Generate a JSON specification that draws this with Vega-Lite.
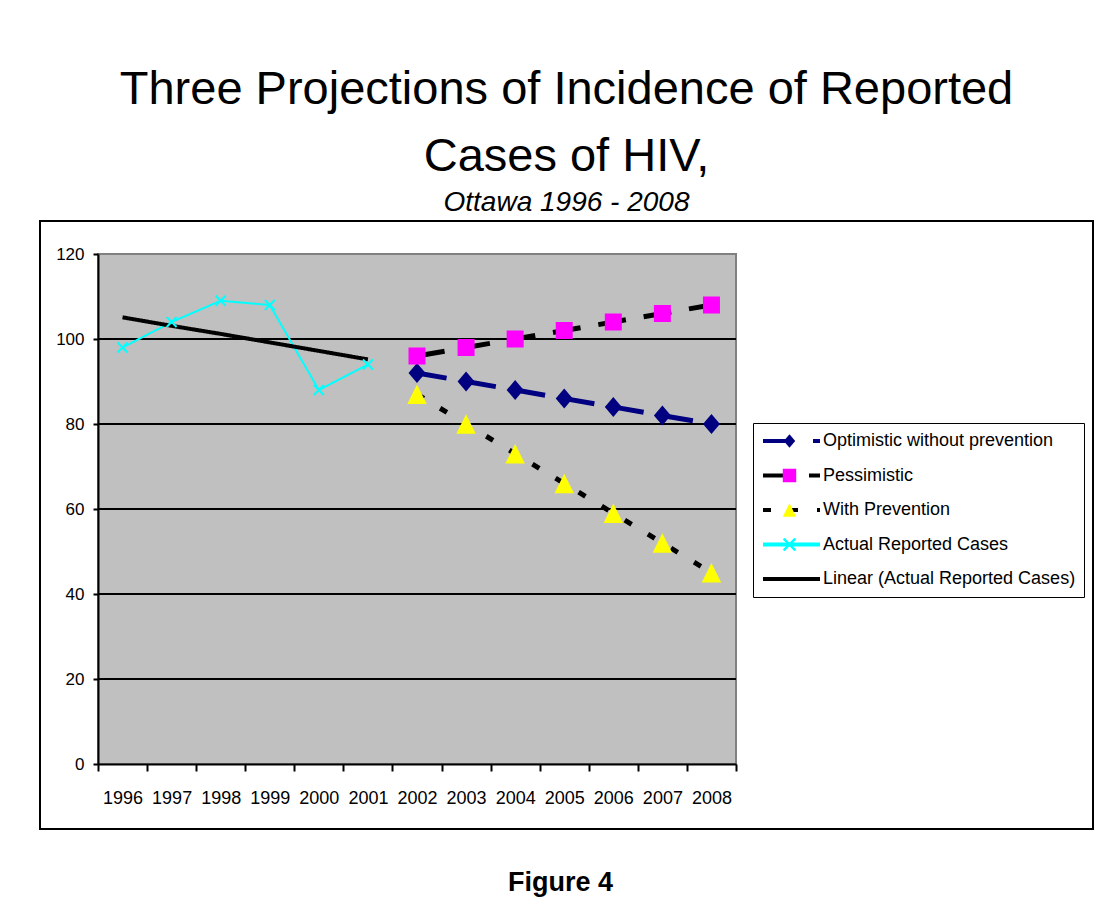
{
  "$schema": "https://vega.github.io/schema/vega-lite/v6.json",
  "width": 1053,
  "height": 608,
  "autosize": {"type": "none"},
  "padding": {"left": 40, "top": 221, "right": 27, "bottom": 89},
  "background": "white",
  "title": {
    "text": ["Three Projections of Incidence of Reported", "Cases of HIV,"],
    "subtitle": "Ottawa 1996 - 2008",
    "font": "Liberation Sans",
    "fontSize": 47,
    "fontWeight": "normal",
    "color": "black",
    "lineHeight": 67,
    "subtitleFont": "Liberation Sans",
    "subtitleFontSize": 28,
    "subtitleFontStyle": "italic",
    "subtitleColor": "black",
    "subtitlePadding": 8,
    "anchor": "middle",
    "frame": "group",
    "offset": 3
  },
  "datasets": {
    "plotArea": [{"from": 1995.5, "to": 2008.5, "bottom": 0, "top": 120}],
    "gridLevels": [
      {"level": 20, "from": 1995.5, "to": 2008.5},
      {"level": 40, "from": 1995.5, "to": 2008.5},
      {"level": 60, "from": 1995.5, "to": 2008.5},
      {"level": 80, "from": 1995.5, "to": 2008.5},
      {"level": 100, "from": 1995.5, "to": 2008.5}
    ]
  },
  "data": {
    "values": [
      {"year": 1996, "value": 98, "series": "Actual Reported Cases"},
      {"year": 1997, "value": 104, "series": "Actual Reported Cases"},
      {"year": 1998, "value": 109, "series": "Actual Reported Cases"},
      {"year": 1999, "value": 108, "series": "Actual Reported Cases"},
      {"year": 2000, "value": 88, "series": "Actual Reported Cases"},
      {"year": 2001, "value": 94, "series": "Actual Reported Cases"},
      {"year": 1996, "value": 105.1, "series": "Linear (Actual Reported Cases)"},
      {"year": 1997, "value": 103.1, "series": "Linear (Actual Reported Cases)"},
      {"year": 1998, "value": 101.2, "series": "Linear (Actual Reported Cases)"},
      {"year": 1999, "value": 99.2, "series": "Linear (Actual Reported Cases)"},
      {"year": 2000, "value": 97.2, "series": "Linear (Actual Reported Cases)"},
      {"year": 2001, "value": 95.2, "series": "Linear (Actual Reported Cases)"},
      {"year": 2002, "value": 92, "series": "Optimistic without prevention"},
      {"year": 2003, "value": 90, "series": "Optimistic without prevention"},
      {"year": 2004, "value": 88, "series": "Optimistic without prevention"},
      {"year": 2005, "value": 86, "series": "Optimistic without prevention"},
      {"year": 2006, "value": 84, "series": "Optimistic without prevention"},
      {"year": 2007, "value": 82, "series": "Optimistic without prevention"},
      {"year": 2008, "value": 80, "series": "Optimistic without prevention"},
      {"year": 2002, "value": 96, "series": "Pessimistic"},
      {"year": 2003, "value": 98, "series": "Pessimistic"},
      {"year": 2004, "value": 100, "series": "Pessimistic"},
      {"year": 2005, "value": 102, "series": "Pessimistic"},
      {"year": 2006, "value": 104, "series": "Pessimistic"},
      {"year": 2007, "value": 106, "series": "Pessimistic"},
      {"year": 2008, "value": 108, "series": "Pessimistic"},
      {"year": 2002, "value": 87, "series": "With Prevention"},
      {"year": 2003, "value": 80, "series": "With Prevention"},
      {"year": 2004, "value": 73, "series": "With Prevention"},
      {"year": 2005, "value": 66, "series": "With Prevention"},
      {"year": 2006, "value": 59, "series": "With Prevention"},
      {"year": 2007, "value": 52, "series": "With Prevention"},
      {"year": 2008, "value": 45, "series": "With Prevention"}
    ]
  },
  "encoding": {
    "x": {
      "field": "year",
      "type": "quantitative",
      "scale": {"domain": [1995.5, 2008.5], "range": [58, 696], "nice": false, "zero": false},
      "axis": {
        "orient": "bottom",
        "offset": -65,
        "values": [1995.5, 1996.5, 1997.5, 1998.5, 1999.5, 2000.5, 2001.5, 2002.5, 2003.5, 2004.5, 2005.5, 2006.5, 2007.5, 2008.5],
        "labelExpr": "datum.value > 2008 ? '' : format(datum.value + 0.5, 'd')",
        "labelOffset": 24.54,
        "labelFont": "Liberation Sans",
        "labelFontSize": 18,
        "labelColor": "black",
        "labelPadding": 18,
        "labelFlush": false,
        "labelOverlap": false,
        "labelBound": false,
        "grid": false,
        "domainColor": "black",
        "domainWidth": 2,
        "tickColor": "black",
        "tickWidth": 2,
        "tickSize": 7,
        "zindex": 1,
        "title": "Figure 4",
        "titleFont": "Liberation Sans",
        "titleFontWeight": "bold",
        "titleFontSize": 27,
        "titleColor": "black",
        "titleX": 520,
        "titleY": 126,
        "titleAlign": "center",
        "titleBaseline": "alphabetic"
      }
    },
    "y": {
      "field": "value",
      "type": "quantitative",
      "scale": {"domain": [0, 120], "range": [543, 33], "nice": false},
      "axis": {
        "orient": "left",
        "offset": -58,
        "values": [0, 20, 40, 60, 80, 100, 120],
        "labelFont": "Liberation Sans",
        "labelFontSize": 17,
        "labelColor": "black",
        "labelPadding": 9,
        "grid": false,
        "domainColor": "black",
        "domainWidth": 2,
        "tickColor": "black",
        "tickWidth": 2,
        "tickSize": 5,
        "zindex": 1,
        "title": null
      }
    }
  },
  "layer": [
    {
      "data": {"name": "plotArea"},
      "mark": {"type": "rect", "fill": "#c0c0c0", "stroke": "#808080", "strokeWidth": 2},
      "encoding": {
        "x": {"field": "from", "type": "quantitative"},
        "x2": {"field": "to"},
        "y": {"field": "bottom", "type": "quantitative"},
        "y2": {"field": "top"}
      }
    },
    {
      "data": {"name": "gridLevels"},
      "mark": {"type": "rule", "stroke": "black", "strokeWidth": 2},
      "encoding": {
        "y": {"field": "level", "type": "quantitative"},
        "x": {"field": "from", "type": "quantitative"},
        "x2": {"field": "to"}
      }
    },
    {
      "transform": [{"filter": "datum.series == 'Actual Reported Cases'"}],
      "mark": {"type": "line", "strokeWidth": 2},
      "encoding": {
        "stroke": {
          "field": "series", "type": "nominal",
          "scale": {"domain": ["Optimistic without prevention", "Pessimistic", "With Prevention", "Actual Reported Cases", "Linear (Actual Reported Cases)"],
                    "range": ["#000080", "#000000", "#000000", "#00ffff", "#000000"]},
          "legend": {
            "orient": "none", "legendX": 713, "legendY": 202, "title": null,
            "symbolType": "stroke", "symbolSize": 3249, "symbolStrokeWidth": 4,
            "labelFont": "Liberation Sans", "labelFontSize": 18, "labelColor": "black", "labelLimit": 0,
            "labelOffset": 1, "padding": 8, "rowPadding": 14.5, "clipHeight": 20,
            "strokeColor": "black", "fillColor": "white", "zindex": 1
          }
        },
        "strokeDash": {
          "field": "series", "type": "nominal",
          "scale": {"domain": ["Optimistic without prevention", "Pessimistic", "With Prevention", "Actual Reported Cases", "Linear (Actual Reported Cases)"],
                    "range": [[30, 20], [28, 18], [8, 19], [1, 0], [1, 0]]},
          "legend": {
            "orient": "none", "legendX": 713, "legendY": 202, "title": null,
            "symbolType": "stroke", "symbolSize": 3249, "symbolStrokeWidth": 4,
            "labelFont": "Liberation Sans", "labelFontSize": 18, "labelColor": "black", "labelLimit": 0,
            "labelOffset": 1, "padding": 8, "rowPadding": 14.5, "clipHeight": 20,
            "strokeColor": "black", "fillColor": "white", "zindex": 1
          }
        }
      }
    },
    {
      "transform": [{"filter": "datum.series == 'Linear (Actual Reported Cases)'"}],
      "mark": {"type": "line", "strokeWidth": 4},
      "encoding": {
        "stroke": {
          "field": "series", "type": "nominal",
          "scale": {"domain": ["Optimistic without prevention", "Pessimistic", "With Prevention", "Actual Reported Cases", "Linear (Actual Reported Cases)"],
                    "range": ["#000080", "#000000", "#000000", "#00ffff", "#000000"]}
        },
        "strokeDash": {
          "field": "series", "type": "nominal",
          "scale": {"domain": ["Optimistic without prevention", "Pessimistic", "With Prevention", "Actual Reported Cases", "Linear (Actual Reported Cases)"],
                    "range": [[30, 20], [28, 18], [8, 19], [1, 0], [1, 0]]}
        }
      }
    },
    {
      "transform": [{"filter": "datum.series == 'Optimistic without prevention' || datum.series == 'Pessimistic' || datum.series == 'With Prevention'"}],
      "mark": {"type": "line", "strokeWidth": 5},
      "encoding": {
        "stroke": {
          "field": "series", "type": "nominal",
          "scale": {"domain": ["Optimistic without prevention", "Pessimistic", "With Prevention", "Actual Reported Cases", "Linear (Actual Reported Cases)"],
                    "range": ["#000080", "#000000", "#000000", "#00ffff", "#000000"]}
        },
        "strokeDash": {
          "field": "series", "type": "nominal",
          "scale": {"domain": ["Optimistic without prevention", "Pessimistic", "With Prevention", "Actual Reported Cases", "Linear (Actual Reported Cases)"],
                    "range": [[30, 20], [28, 18], [8, 19], [1, 0], [1, 0]]}
        }
      }
    },
    {
      "transform": [{"filter": "datum.series == 'Optimistic without prevention'"}],
      "mark": {"type": "point", "filled": true, "size": 400, "strokeWidth": 0, "opacity": 1},
      "encoding": {
        "fill": {
          "field": "series", "type": "nominal",
          "scale": {"domain": ["Optimistic without prevention", "Pessimistic", "With Prevention", "Actual Reported Cases"],
                    "range": ["#000080", "#ff00ff", "#ffff00", "#00ffff"]},
          "legend": {
            "orient": "none", "legendX": 713, "legendY": 202, "title": null,
            "symbolSize": 180, "symbolStrokeWidth": 0, "symbolOpacity": 1,
            "labelExpr": "''", "labelFontSize": 18, "labelLimit": 0,
            "padding": 8, "rowPadding": 14.5, "clipHeight": 20, "symbolOffset": 19.5, "zindex": 2
          }
        },
        "shape": {
          "field": "series", "type": "nominal",
          "scale": {"domain": ["Optimistic without prevention", "Pessimistic", "With Prevention", "Actual Reported Cases"],
                    "range": ["M0,-1L0.85,0L0,1L-0.85,0Z", "square", "M0,-1L1,1L-1,1Z", "M-1,-0.75L-0.75,-1L1,0.75L0.75,1Z M0.75,-1L1,-0.75L-0.75,1L-1,0.75Z"]},
          "legend": {
            "orient": "none", "legendX": 713, "legendY": 202, "title": null,
            "symbolSize": 180, "symbolStrokeWidth": 0, "symbolOpacity": 1,
            "labelExpr": "''", "labelFontSize": 18, "labelLimit": 0,
            "padding": 8, "rowPadding": 14.5, "clipHeight": 20, "symbolOffset": 19.5, "zindex": 2
          }
        }
      }
    },
    {
      "transform": [{"filter": "datum.series == 'Pessimistic'"}],
      "mark": {"type": "point", "filled": true, "size": 289, "strokeWidth": 0, "opacity": 1},
      "encoding": {
        "fill": {
          "field": "series", "type": "nominal",
          "scale": {"domain": ["Optimistic without prevention", "Pessimistic", "With Prevention", "Actual Reported Cases"],
                    "range": ["#000080", "#ff00ff", "#ffff00", "#00ffff"]}
        },
        "shape": {
          "field": "series", "type": "nominal",
          "scale": {"domain": ["Optimistic without prevention", "Pessimistic", "With Prevention", "Actual Reported Cases"],
                    "range": ["M0,-1L0.85,0L0,1L-0.85,0Z", "square", "M0,-1L1,1L-1,1Z", "M-1,-0.75L-0.75,-1L1,0.75L0.75,1Z M0.75,-1L1,-0.75L-0.75,1L-1,0.75Z"]}
        }
      }
    },
    {
      "transform": [{"filter": "datum.series == 'With Prevention'"}],
      "mark": {"type": "point", "filled": true, "size": 380, "strokeWidth": 0, "opacity": 1},
      "encoding": {
        "fill": {
          "field": "series", "type": "nominal",
          "scale": {"domain": ["Optimistic without prevention", "Pessimistic", "With Prevention", "Actual Reported Cases"],
                    "range": ["#000080", "#ff00ff", "#ffff00", "#00ffff"]}
        },
        "shape": {
          "field": "series", "type": "nominal",
          "scale": {"domain": ["Optimistic without prevention", "Pessimistic", "With Prevention", "Actual Reported Cases"],
                    "range": ["M0,-1L0.85,0L0,1L-0.85,0Z", "square", "M0,-1L1,1L-1,1Z", "M-1,-0.75L-0.75,-1L1,0.75L0.75,1Z M0.75,-1L1,-0.75L-0.75,1L-1,0.75Z"]}
        }
      }
    },
    {
      "transform": [{"filter": "datum.series == 'Actual Reported Cases'"}],
      "mark": {"type": "point", "filled": true, "size": 130, "strokeWidth": 0, "opacity": 1},
      "encoding": {
        "fill": {
          "field": "series", "type": "nominal",
          "scale": {"domain": ["Optimistic without prevention", "Pessimistic", "With Prevention", "Actual Reported Cases"],
                    "range": ["#000080", "#ff00ff", "#ffff00", "#00ffff"]}
        },
        "shape": {
          "field": "series", "type": "nominal",
          "scale": {"domain": ["Optimistic without prevention", "Pessimistic", "With Prevention", "Actual Reported Cases"],
                    "range": ["M0,-1L0.85,0L0,1L-0.85,0Z", "square", "M0,-1L1,1L-1,1Z", "M-1,-0.75L-0.75,-1L1,0.75L0.75,1Z M0.75,-1L1,-0.75L-0.75,1L-1,0.75Z"]}
        }
      }
    }
  ],
  "config": {
    "view": {"stroke": "black", "strokeWidth": 2, "fill": "white"},
    "font": "Liberation Sans"
  }
}
